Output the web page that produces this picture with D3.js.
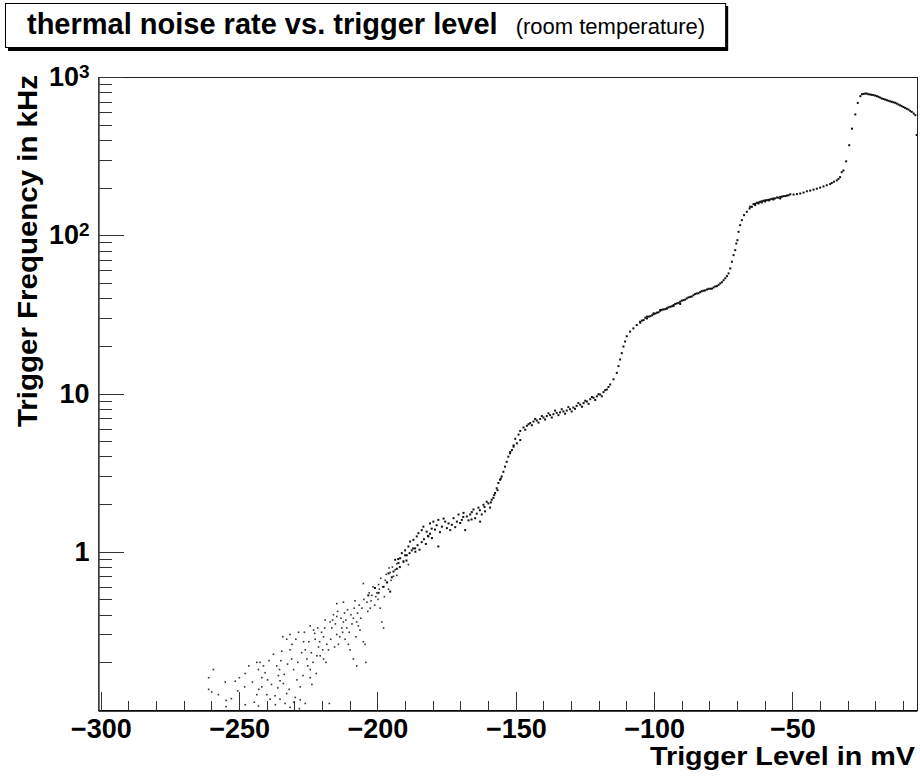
<!DOCTYPE html>
<html>
<head>
<meta charset="utf-8">
<script src="https://cdn.jsdelivr.net/npm/d3@7/dist/d3.min.js"></script>
<style>
	body { margin: 0; background: #fff; }
	svg { display: block; }
</style>
</head>
<body>
<div id="chart"></div>
<script>

// sparse noisy tail at the low end
const lowTail = [
	[-261.0, 0.16], [-259.3, 0.18], [-261.0, 0.135], [-259.9, 0.13], [-257.5, 0.125],
	[-255.0, 0.15], [-254.7, 0.115], [-254.7, 0.105], [-252.8, 0.118], [-251.4, 0.152],
	[-250.5, 0.132], [-249.9, 0.16], [-247.8, 0.17], [-248.0, 0.14], [-247.8, 0.108],
	[-246.5, 0.19], [-245.2, 0.15], [-244.5, 0.112], [-243.6, 0.2], [-242.4, 0.2],
	[-243.0, 0.18], [-241.8, 0.16], [-241.2, 0.19], [-239.7, 0.155], [-241.8, 0.14],
	[-243.6, 0.125], [-242.9, 0.135], [-240.0, 0.125], [-238.8, 0.117], [-243.0, 0.106],
	[-240.6, 0.172], [-239.2, 0.205], [-238.3, 0.145], [-237.6, 0.225], [-236.9, 0.108],
	[-236.4, 0.19], [-235.4, 0.18], [-235.8, 0.165], [-235.2, 0.153], [-236.0, 0.138],
	[-234.0, 0.147], [-232.8, 0.127], [-237.0, 0.123], [-235.2, 0.117], [-234.9, 0.205],
	[-233.4, 0.11], [-231.6, 0.104], [-234.6, 0.235], [-234.2, 0.29], [-232.8, 0.28],
	[-233.7, 0.168], [-232.5, 0.195], [-231.9, 0.135], [-230.9, 0.26], [-230.2, 0.112],
	[-231.6, 0.3], [-231.6, 0.24], [-231.0, 0.21], [-230.3, 0.18], [-229.1, 0.155],
	[-227.9, 0.14], [-229.7, 0.12], [-229.5, 0.28], [-228.8, 0.2], [-228.2, 0.102],
	[-228.5, 0.31], [-226.7, 0.27], [-226.1, 0.24], [-225.5, 0.21], [-224.3, 0.18],
	[-224.3, 0.16], [-227.4, 0.23], [-226.9, 0.165], [-226.4, 0.31], [-225.2, 0.19],
	[-227.9, 0.116], [-226.1, 0.11], [-224.3, 0.34], [-223.1, 0.32], [-224.8, 0.27],
	[-222.5, 0.28], [-221.3, 0.25], [-221.9, 0.22], [-220.7, 0.22], [-219.5, 0.21],
	[-223.7, 0.145], [-223.9, 0.23], [-223.3, 0.2], [-222.7, 0.305], [-222.1, 0.17],
	[-219.5, 0.29], [-218.3, 0.26], [-217.7, 0.24], [-218.9, 0.37], [-217.1, 0.36],
	[-221.6, 0.33], [-220.9, 0.27], [-220.2, 0.31], [-219.8, 0.24], [-219.1, 0.33],
	[-215.9, 0.4], [-214.7, 0.39], [-216.5, 0.33], [-214.7, 0.3], [-214.1, 0.26],
	[-218.6, 0.2], [-217.4, 0.11], [-216.9, 0.28], [-216.2, 0.37], [-215.5, 0.25],
	[-212.9, 0.33], [-212.3, 0.36], [-211.1, 0.33], [-211.7, 0.28], [-210.5, 0.26],
	[-215.2, 0.35], [-214.4, 0.42], [-213.6, 0.29], [-213.2, 0.38], [-212.6, 0.31],
	[-209.9, 0.24], [-208.7, 0.21], [-207.5, 0.19], [-208.7, 0.38], [-207.5, 0.36],
	[-211.9, 0.41], [-211.4, 0.37], [-210.8, 0.43], [-210.2, 0.31], [-209.6, 0.4],
	[-206.9, 0.34], [-206.3, 0.32], [-205.1, 0.27], [-204.5, 0.26], [-214.7, 0.47],
	[-209.2, 0.35], [-208.4, 0.44], [-207.8, 0.29], [-207.2, 0.41], [-206.6, 0.46],
	[-212.3, 0.48], [-208.1, 0.49], [-205.1, 0.63], [-203.8, 0.48], [-202.6, 0.44],
	[-206.0, 0.38], [-205.6, 0.44], [-204.9, 0.5], [-204.2, 0.2], [-203.5, 0.42],
	[-202.0, 0.53], [-200.2, 0.55], [-199.0, 0.44], [-198.4, 0.36], [-197.8, 0.33],
	[-203.0, 0.55], [-202.3, 0.49], [-201.6, 0.6], [-201.0, 0.46], [-200.6, 0.52],
	[-199.6, 0.62], [-197.2, 0.66], [-196.0, 0.58], [-195.4, 0.74], [-194.2, 0.7],
	[-199.8, 0.5], [-199.3, 0.58], [-198.8, 0.68], [-198.1, 0.6], [-197.5, 0.52],
	[-193.0, 0.71], [-193.0, 0.84], [-190.6, 0.86], [-188.8, 0.83], [-196.8, 0.72],
	[-196.4, 0.64], [-195.8, 0.79], [-195.1, 0.66], [-194.6, 0.8], [-193.6, 0.77]
];

// first shoulder around 1.5 kHz and the climb to 5 kHz
const firstStep = [
	[-203.3, 0.53], [-200.9, 0.59], [-199.6, 0.55], [-197.8, 0.6], [-196.6, 0.64],
	[-195.4, 0.56], [-194.8, 0.69], [-196.0, 0.73], [-194.2, 0.75], [-193.0, 0.78],
	[-193.6, 0.89], [-192.4, 0.85], [-191.8, 0.91], [-191.2, 0.98], [-190.0, 1.02],
	[-189.4, 0.95], [-188.8, 1.08], [-188.2, 1.16], [-187.0, 1.19], [-186.4, 1.05],
	[-190.6, 0.87], [-187.6, 1.02], [-185.8, 1.25], [-185.2, 1.31], [-184.0, 1.37],
	[-192.5, 0.9], [-191.9, 0.8], [-190.0, 0.95], [-189.5, 0.88], [-188.4, 0.98],
	[-187.1, 1.05], [-186.3, 1.0], [-185.5, 1.1], [-184.8, 1.03], [-184.0, 1.15],
	[-183.4, 1.44], [-182.2, 1.34], [-181.6, 1.25], [-181.0, 1.51], [-180.4, 1.4],
	[-183.2, 1.2], [-182.5, 1.12], [-181.7, 1.26], [-181.0, 1.3], [-180.3, 1.22],
	[-179.8, 1.55], [-178.6, 1.47], [-178.0, 1.59], [-178.0, 1.08], [-176.7, 1.44],
	[-175.5, 1.55], [-174.3, 1.51], [-173.7, 1.37], [-172.5, 1.63], [-171.3, 1.55],
	[-179.2, 1.38], [-177.4, 1.33], [-176.1, 1.62], [-174.9, 1.41], [-173.1, 1.48],
	[-170.7, 1.72], [-169.5, 1.59], [-168.9, 1.76], [-168.3, 1.37], [-167.7, 1.67],
	[-171.9, 1.43], [-170.1, 1.52], [-169.0, 1.66], [-167.1, 1.58], [-166.0, 1.6],
	[-166.5, 1.72], [-165.3, 1.85], [-164.7, 1.63], [-163.5, 1.9], [-162.9, 1.55],
	[-165.9, 1.78], [-164.1, 1.74], [-163.0, 1.83], [-162.3, 1.72], [-161.3, 1.92],
	[-161.7, 1.98], [-161.1, 1.8], [-159.9, 2.02], [-159.3, 1.9], [-158.7, 2.13],
	[-160.5, 2.07], [-159.0, 2.05], [-157.8, 2.28], [-156.6, 2.45], [-155.4, 2.9],
	[-158.1, 2.19], [-157.5, 2.35], [-156.9, 2.52], [-156.3, 2.72], [-155.7, 2.85],
	[-155.1, 2.99], [-154.5, 3.2], [-153.9, 3.45], [-153.3, 3.7], [-152.7, 3.99],
	[-152.1, 4.19], [-151.4, 4.39], [-150.8, 4.61], [-149.6, 4.84], [-148.4, 5.08]
];

// second shoulder around 8 kHz and the climb to 30 kHz
const secondStep = [
	[-152.0, 4.27], [-150.8, 4.7], [-150.2, 5.17], [-149.0, 5.5], [-148.4, 5.8],
	[-147.2, 6.1], [-146.0, 6.25], [-144.8, 6.5], [-143.6, 6.65], [-142.4, 6.75],
	[-141.2, 6.9], [-140.0, 7.05], [-138.8, 7.2], [-137.6, 7.3], [-136.4, 7.4],
	[-135.2, 7.55], [-134.0, 7.6], [-132.8, 7.7], [-131.6, 7.8], [-130.4, 7.95],
	[-129.2, 8.15], [-128.0, 8.35], [-126.7, 8.5], [-125.5, 8.7], [-124.3, 8.9],
	[-123.1, 9.2], [-121.9, 9.4], [-120.7, 9.6], [-119.5, 9.85], [-118.3, 10.2],
	[-146.6, 5.9], [-145.4, 6.4], [-144.2, 6.3], [-143.0, 6.9], [-141.8, 6.55],
	[-140.6, 7.2], [-139.4, 6.85], [-138.2, 7.5], [-137.0, 7.05], [-135.8, 7.8],
	[-134.6, 7.3], [-133.4, 7.95], [-132.2, 7.45], [-131.0, 8.2], [-129.8, 7.7],
	[-128.6, 8.0], [-127.4, 8.7], [-126.1, 8.25], [-124.9, 9.0], [-123.7, 8.6],
	[-122.5, 9.5], [-121.3, 9.1], [-120.1, 9.9], [-118.9, 9.6], [-117.7, 10.5],
	[-117.1, 10.6], [-116.5, 11.0], [-115.9, 11.4], [-114.7, 12.3], [-113.5, 13.5],
	[-112.9, 14.9], [-112.3, 16.4], [-111.7, 18.0], [-111.1, 19.8], [-110.5, 21.3],
	[-109.9, 23.0], [-108.7, 24.6], [-107.5, 25.8], [-106.3, 27.1], [-105.1, 28.4],
	[-102.6, 30.6], [-100.2, 32.1], [-97.8, 33.7], [-95.4, 34.5], [-93.0, 35.7],
	[-90.6, 36.8]
];

// third shoulder around 40 kHz and the climb to 160 kHz
const thirdStep = [
	[-105.0, 28.0], [-103.8, 29.1], [-102.6, 29.8], [-101.4, 30.8], [-100.2, 31.7],
	[-99.0, 32.4], [-97.8, 33.3], [-96.6, 34.0], [-95.4, 34.5], [-94.2, 35.3],
	[-93.0, 36.2], [-91.8, 37.1], [-90.6, 38.0], [-89.4, 38.9], [-88.2, 39.9],
	[-87.0, 40.8], [-85.8, 41.8], [-84.6, 42.9], [-83.4, 43.7], [-82.2, 44.6],
	[-80.9, 45.4], [-79.7, 45.9], [-78.5, 46.8], [-77.3, 47.7], [-76.1, 49.6],
	[-104.4, 28.9], [-103.2, 30.1], [-102.0, 30.6], [-100.8, 31.2], [-99.6, 32.0],
	[-98.4, 32.6], [-97.2, 33.8], [-96.0, 34.1], [-94.8, 35.0], [-93.6, 35.6],
	[-92.4, 36.8], [-91.2, 37.4], [-90.0, 38.6], [-88.8, 39.2], [-87.6, 40.5],
	[-86.4, 41.0], [-85.2, 42.5], [-84.0, 43.0], [-82.8, 44.3], [-81.6, 44.8],
	[-80.3, 45.9], [-79.1, 46.0], [-77.9, 47.5], [-76.7, 48.6], [-75.5, 50.5],
	[-74.9, 52.0], [-74.3, 53.5], [-73.7, 55.2], [-73.1, 57.4], [-72.5, 61.7],
	[-71.9, 68.0], [-71.3, 74.9], [-70.7, 80.5], [-70.3, 88.7], [-69.9, 93.1],
	[-69.5, 105.1], [-68.9, 115.8], [-68.3, 124.6], [-67.5, 134.0], [-66.5, 140.7],
	[-65.5, 147.6], [-64.7, 151.2], [-63.5, 155.0], [-62.3, 158.8], [-61.1, 161.1],
	[-59.9, 163.5], [-58.6, 165.9], [-56.9, 168.3], [-54.4, 170.8]
];

// fourth shoulder around 180 kHz, the last climb and the saturation peak
const fourthStep = [
	[-65.3, 151.5], [-64.1, 157.3], [-62.9, 160.4], [-61.7, 162.7], [-60.5, 165.1],
	[-59.3, 166.7], [-58.1, 168.2], [-56.9, 170.7], [-55.6, 173.2], [-54.4, 174.8],
	[-53.2, 176.5], [-52.0, 178.2], [-49.6, 180.8], [-47.2, 183.5], [-44.8, 189.7],
	[-42.4, 194.2], [-40.0, 200.0], [-37.6, 207.0], [-35.8, 213.9], [-34.0, 222.0],
	[-63.5, 158.0], [-62.3, 161.0], [-61.1, 163.8], [-59.9, 166.0], [-58.7, 167.5],
	[-57.5, 169.8], [-56.3, 171.0], [-55.0, 172.5], [-53.8, 175.5], [-52.6, 177.0],
	[-51.4, 179.0], [-50.8, 181.5], [-48.4, 182.0], [-46.0, 186.0], [-43.6, 191.5],
	[-41.2, 197.0], [-38.8, 203.5], [-36.4, 210.5], [-35.0, 218.0], [-33.4, 227.0],
	[-32.8, 233.0], [-32.2, 250.3], [-31.6, 256.4], [-30.6, 293.2], [-29.5, 370.7],
	[-28.5, 471.5], [-27.3, 580], [-26.4, 686], [-25.5, 756], [-24.9, 778]
];

const peak = [
	[-24.3, 782], [-23.7, 786], [-23.1, 785], [-22.5, 778], [-21.9, 775],
	[-21.3, 771], [-20.7, 768], [-20.1, 763], [-19.5, 757], [-18.9, 749],
	[-18.3, 741], [-17.7, 731], [-17.1, 726], [-16.5, 720], [-15.9, 714],
	[-15.3, 707], [-14.7, 702], [-14.1, 697], [-13.5, 692], [-12.9, 687],
	[-12.3, 679], [-11.7, 670], [-11.1, 662], [-10.5, 654], [-9.9, 646],
	[-9.3, 638], [-8.7, 630], [-8.1, 623], [-7.5, 612], [-6.9, 602],
	[-6.2, 588], [-5.6, 574], [-5.1, 430]
];

// axis ticks and labels
const xMajorTicks = [-300, -250, -200, -150, -100, -50];
const yMajorTicks = [1, 10, 100, 1000];
const yLabelBase = ["1", "10", "10", "10"];
const yLabelExp = ["", "", "2", "3"];
const yMinorTicks = [0.2, 0.3, 0.4, 0.5, 0.6, 0.7, 0.8, 0.9,
	2, 3, 4, 5, 6, 7, 8, 9,
	20, 30, 40, 50, 60, 70, 80, 90,
	200, 300, 400, 500, 600, 700, 800, 900];

const titleText = "thermal noise rate vs. trigger level";
const subtitleText = "(room temperature)";
const xTitle = "Trigger Level in mV";
const yTitle = "Trigger Frequency in kHz";

const fontFamily = "'Liberation Sans', Arial, Helvetica, sans-serif";

// layout
const W = 920, H = 777;
const frame = {left: 98, top: 77, right: 917, bottom: 710};

const svg = d3.select("#chart").append("svg")
	.attr("width", W)
	.attr("height", H)
	.style("font-family", fontFamily);

svg.append("rect")
	.attr("width", W)
	.attr("height", H)
	.attr("fill", "#fff");

// scales
const x = d3.scaleLinear()
	.domain([-301, -5])
	.range([frame.left, frame.right]);

const y = d3.scaleLog()
	.domain([0.1, 1000])
	.range([frame.bottom, frame.top]);

// frame
svg.append("rect")
	.attr("x", frame.left + 0.5)
	.attr("y", frame.top + 0.5)
	.attr("width", frame.right - frame.left)
	.attr("height", frame.bottom - frame.top)
	.attr("fill", "none")
	.attr("stroke", "#222")
	.attr("stroke-width", 1)
	.style("shape-rendering", "crispEdges");

// data points
svg.append("clipPath")
	.attr("id", "plot-clip")
	.append("rect")
	.attr("x", frame.left)
	.attr("y", frame.top)
	.attr("width", frame.right - frame.left)
	.attr("height", frame.bottom - frame.top);

const pointsGroup = svg.append("g").attr("clip-path", "url(#plot-clip)");

// the low tail is drawn a bit lighter, the way the scattered single dots look
pointsGroup.selectAll("rect.tail")
	.data(lowTail)
	.join("rect")
	.attr("class", "tail")
	.attr("x", d => x(d[0]) - 0.8)
	.attr("y", d => y(d[1]) - 0.8)
	.attr("width", 1.6)
	.attr("height", 1.6)
	.attr("fill", "#333");

const curvePoints = [].concat(firstStep, secondStep, thirdStep, fourthStep, peak);

pointsGroup.selectAll("rect.curve")
	.data(curvePoints)
	.join("rect")
	.attr("class", "curve")
	.attr("x", d => x(d[0]) - 1)
	.attr("y", d => y(d[1]) - 1)
	.attr("width", 2)
	.attr("height", 2)
	.attr("fill", "#111");

// x axis: major + minor ticks pointing inward
const xMinorGroup = svg.append("g")
	.attr("transform", `translate(0,${frame.bottom + 0.5})`)
	.call(d3.axisBottom(x)
		.tickValues(d3.range(-300, -5, 10).filter(v => v % 50 !== 0))
		.tickSize(-10)
		.tickFormat(""));
xMinorGroup.select(".domain").remove();

const xAxisGroup = svg.append("g")
	.attr("transform", `translate(0,${frame.bottom + 0.5})`)
	.call(d3.axisBottom(x)
		.tickValues(xMajorTicks)
		.tickSize(-19)
		.tickSizeOuter(0)
		.tickPadding(8)
		.tickFormat(d => d3.format("d")(d)));

xAxisGroup.select(".domain").attr("stroke", "#000").attr("stroke-width", 1.5);
xAxisGroup.selectAll(".tick text")
	.attr("fill", "#000")
	.style("font-family", fontFamily)
	.style("font-size", "27px")
	.style("font-weight", "bold");

// y axis: major + minor ticks pointing inward
const yMinorGroup = svg.append("g")
	.attr("transform", `translate(${frame.left + 0.5},0)`)
	.call(d3.axisLeft(y)
		.tickValues(yMinorTicks)
		.tickSize(-13)
		.tickFormat(""));
yMinorGroup.select(".domain").remove();

const yAxisGroup = svg.append("g")
	.attr("transform", `translate(${frame.left + 0.5},0)`)
	.call(d3.axisLeft(y)
		.tickValues(yMajorTicks)
		.tickSize(-25)
		.tickSizeOuter(0)
		.tickPadding(9)
		.tickFormat(""));

yAxisGroup.select(".domain").attr("stroke", "#444").attr("stroke-width", 1.5);
yAxisGroup.selectAll(".tick text")
	.attr("fill", "#000")
	.style("font-family", fontFamily)
	.style("font-size", "27px")
	.style("font-weight", "bold")
	.each(function(d, i) {
		const t = d3.select(this);
		t.text(null);
		t.append("tspan").text(yLabelBase[i]);
		if (yLabelExp[i]) {
			t.append("tspan")
				.attr("dy", "-0.45em")
				.style("font-size", "19px")
				.text(yLabelExp[i]);
		}
	});

svg.selectAll(".tick line")
	.attr("stroke", "#333")
	.style("shape-rendering", "crispEdges");

// axis titles
svg.append("text")
	.attr("x", 650)
	.attr("y", 765)
	.attr("textLength", 265)
	.attr("lengthAdjust", "spacingAndGlyphs")
	.style("font-size", "26px")
	.style("font-weight", "bold")
	.text(xTitle);

svg.append("text")
	.attr("transform", "translate(37,427) rotate(-90)")
	.attr("x", 0)
	.attr("y", 0)
	.attr("textLength", 352)
	.attr("lengthAdjust", "spacingAndGlyphs")
	.style("font-size", "27px")
	.style("font-weight", "bold")
	.text(yTitle);

// title box with drop shadow
const titleGroup = svg.append("g");
const shadow = titleGroup.append("rect").attr("fill", "#000");
const box = titleGroup.append("rect")
	.attr("fill", "#fff")
	.attr("stroke", "#000")
	.attr("stroke-width", 1);

const mainTitle = titleGroup.append("text")
	.attr("x", 27)
	.attr("y", 34)
	.style("font-size", "29px")
	.style("font-weight", "bold")
	.text(titleText);

const titleEnd = 27 + mainTitle.node().getComputedTextLength();

const subTitle = titleGroup.append("text")
	.attr("x", titleEnd + 18)
	.attr("y", 34)
	.style("font-size", "22px")
	.text(subtitleText);

const boxRight = titleEnd + 18 + subTitle.node().getComputedTextLength() + 20;

box.attr("x", 5.5).attr("y", 3.5).attr("width", boxRight - 5).attr("height", 44);
shadow.attr("x", 8).attr("y", 6).attr("width", boxRight - 5).attr("height", 45);

</script>
</body>
</html>
